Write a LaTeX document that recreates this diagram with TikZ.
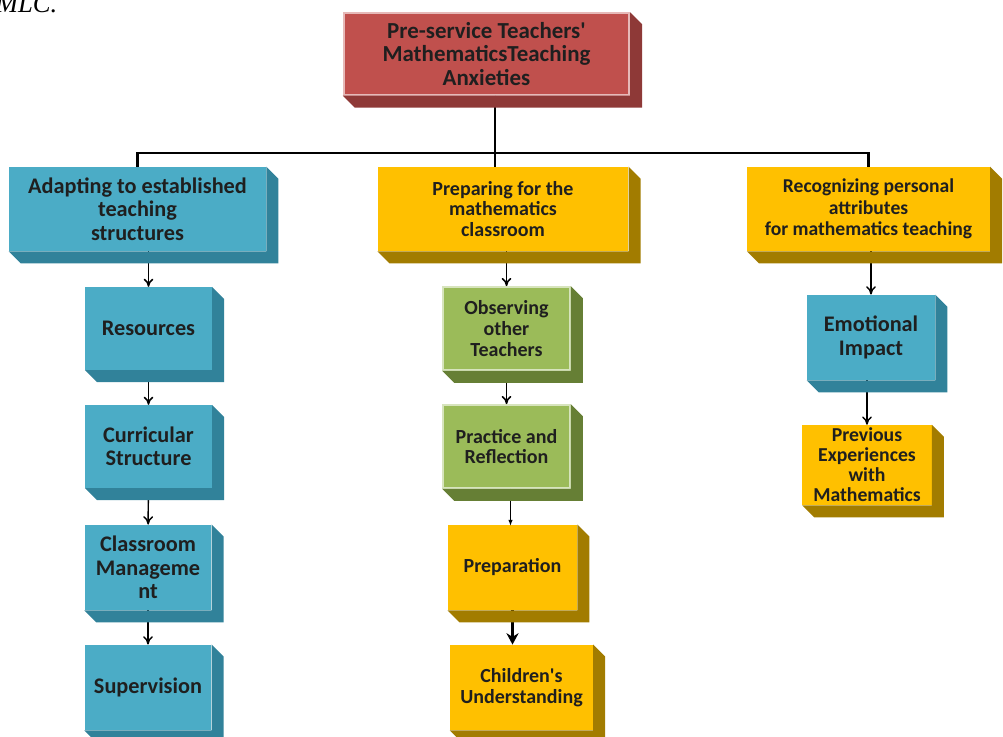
\documentclass[tikz,border=0pt]{standalone}
\usepackage{fontspec}
\setmainfont{Carlito}
\newfontfamily\captionfont{Liberation Serif}
\usepackage{xcolor}
\usetikzlibrary{arrows.meta,positioning,calc}

\definecolor{topred}{HTML}{C0504D}
\definecolor{topredrim}{HTML}{E6B9B8}
\definecolor{topredside}{HTML}{8E3937}
\definecolor{aqua}{HTML}{4BACC6}
\definecolor{aquaside}{HTML}{31829A}
\definecolor{gold}{HTML}{FFC000}
\definecolor{goldside}{HTML}{A27C00}
\definecolor{olive}{HTML}{9BBB59}
\definecolor{oliverim}{HTML}{D7E4BD}
\definecolor{oliveside}{HTML}{667F35}

\begin{document}
\begin{tikzpicture}[
    x=0.75pt, y=-0.75pt,
    theme/.style={rectangle, align=center, inner sep=2pt, text=black!88,
        font=\fontsize{16.7}{17.5}\selectfont\bfseries},
    midtext/.style={font=\fontsize{15}{15.5}\selectfont\bfseries},
    subtheme/.style={theme, minimum width=95pt, minimum height=62pt},
    arr/.style={-{To[length=2.2mm,width=2.6mm]}, line width=1.1pt},
    tree/.style={line width=1.6pt}
]
\useasboundingbox (0,0) rectangle (1003,736);
\node[font=\captionfont\itshape\fontsize{20}{20}\selectfont, anchor=base east] (cap) at (62,12) {MLC.};

\node[theme, fill=topred, draw=topredrim, line width=1.5pt, minimum width=214pt, minimum height=61pt,
    font=\fontsize{17.2}{17.3}\selectfont\bfseries] (top) at (486.5,54)
    {Pre-service Teachers\textquotesingle\\MathematicsTeaching\\Anxieties};

\node[theme, fill=aqua, minimum width=193pt, minimum height=63pt] (adapt) at (137.5,209) {Adapting to established\\teaching\\structures};
\node[theme, midtext, fill=gold, minimum width=188pt, minimum height=63pt] (prep) at (503,209) {Preparing for the\\mathematics\\classroom};
\node[theme, fill=gold, minimum width=182pt, minimum height=63pt, font=\fontsize{14.7}{16}\selectfont\bfseries] (recog) at (868.5,209) {Recognizing personal\\attributes\\for mathematics teaching};

\node[subtheme, fill=aqua] (res)   at (148.5,328.5) {Resources};
\node[subtheme, fill=aqua] (curr)  at (148.5,446.5) {Curricular\\Structure};
\node[subtheme, fill=aqua, minimum height=64pt] (class) at (148,567.5) {Classroom\\Manageme\\nt};
\node[subtheme, fill=aqua, minimum height=64pt] (sup)   at (148,687.5) {Supervision};

\node[subtheme, midtext, fill=olive, draw=oliverim, line width=1.5pt] (obs)  at (506.5,328.5) {Observing\\other\\Teachers};
\node[subtheme, midtext, fill=olive, draw=oliverim, line width=1.5pt] (prac) at (506.5,446.5) {Practice and\\Reflection};
\node[subtheme, midtext, fill=gold, minimum width=97pt, minimum height=64pt] (prepn) at (512.5,567.5) {Preparation};
\node[subtheme, midtext, fill=gold, minimum width=107pt, minimum height=64pt] (child) at (521.5,687.5) {Children\textquotesingle s\\Understanding};

\node[subtheme, fill=aqua, minimum width=96pt, minimum height=64pt] (emo) at (871,337.5) {Emotional\\Impact};
\node[subtheme, fill=gold, minimum width=97pt, minimum height=60pt, font=\fontsize{14.8}{15}\selectfont\bfseries] (prev) at (867,465) {Previous\\Experiences\\with\\Mathematics};

\coordinate (hub) at ($(top.south)+(8.5,57)$);
\draw[tree] ($(top.south)+(8.5,0)$) -- (hub);
\draw[tree] (adapt.north) |- (hub) -| (recog.north);
\draw[tree] (hub) -- (hub |- prep.north);

\draw[arr] (adapt.south -| res) -- (res);
\draw[arr] (res) -- (curr);
\draw[arr] (curr) -- (class);
\draw[arr] (class) -- (sup);
\draw[arr] (prep.south -| obs) -- (obs);
\draw[arr] (obs) -- (prac);
\draw[-{Latex[length=1.6mm]}, line width=0.7pt] (prac.south -| prepn.north) ++(-2,0) -- ++(0,37);
\draw[-{Stealth[length=3mm,width=3.2mm]}, line width=1.6pt] (prepn) -- (prepn |- child.north);
\draw[arr] (recog.south -| emo) -- (emo);
\draw[arr] (emo.south -| prev) -- (prev);

\foreach \n/\c in {top/topredside, adapt/aquaside, prep/goldside, recog/goldside,
    res/aquaside, curr/aquaside, class/aquaside, sup/aquaside,
    obs/oliveside, prac/oliveside, prepn/goldside, child/goldside,
    emo/aquaside, prev/goldside}
  \fill[\c] (\n.north east) -- ++(12,12) -- ($(\n.south east)+(12,12)$)
    -- ($(\n.south west)+(12,12)$) -- (\n.south west) -- (\n.south east) -- cycle;
\end{tikzpicture}
\end{document}
